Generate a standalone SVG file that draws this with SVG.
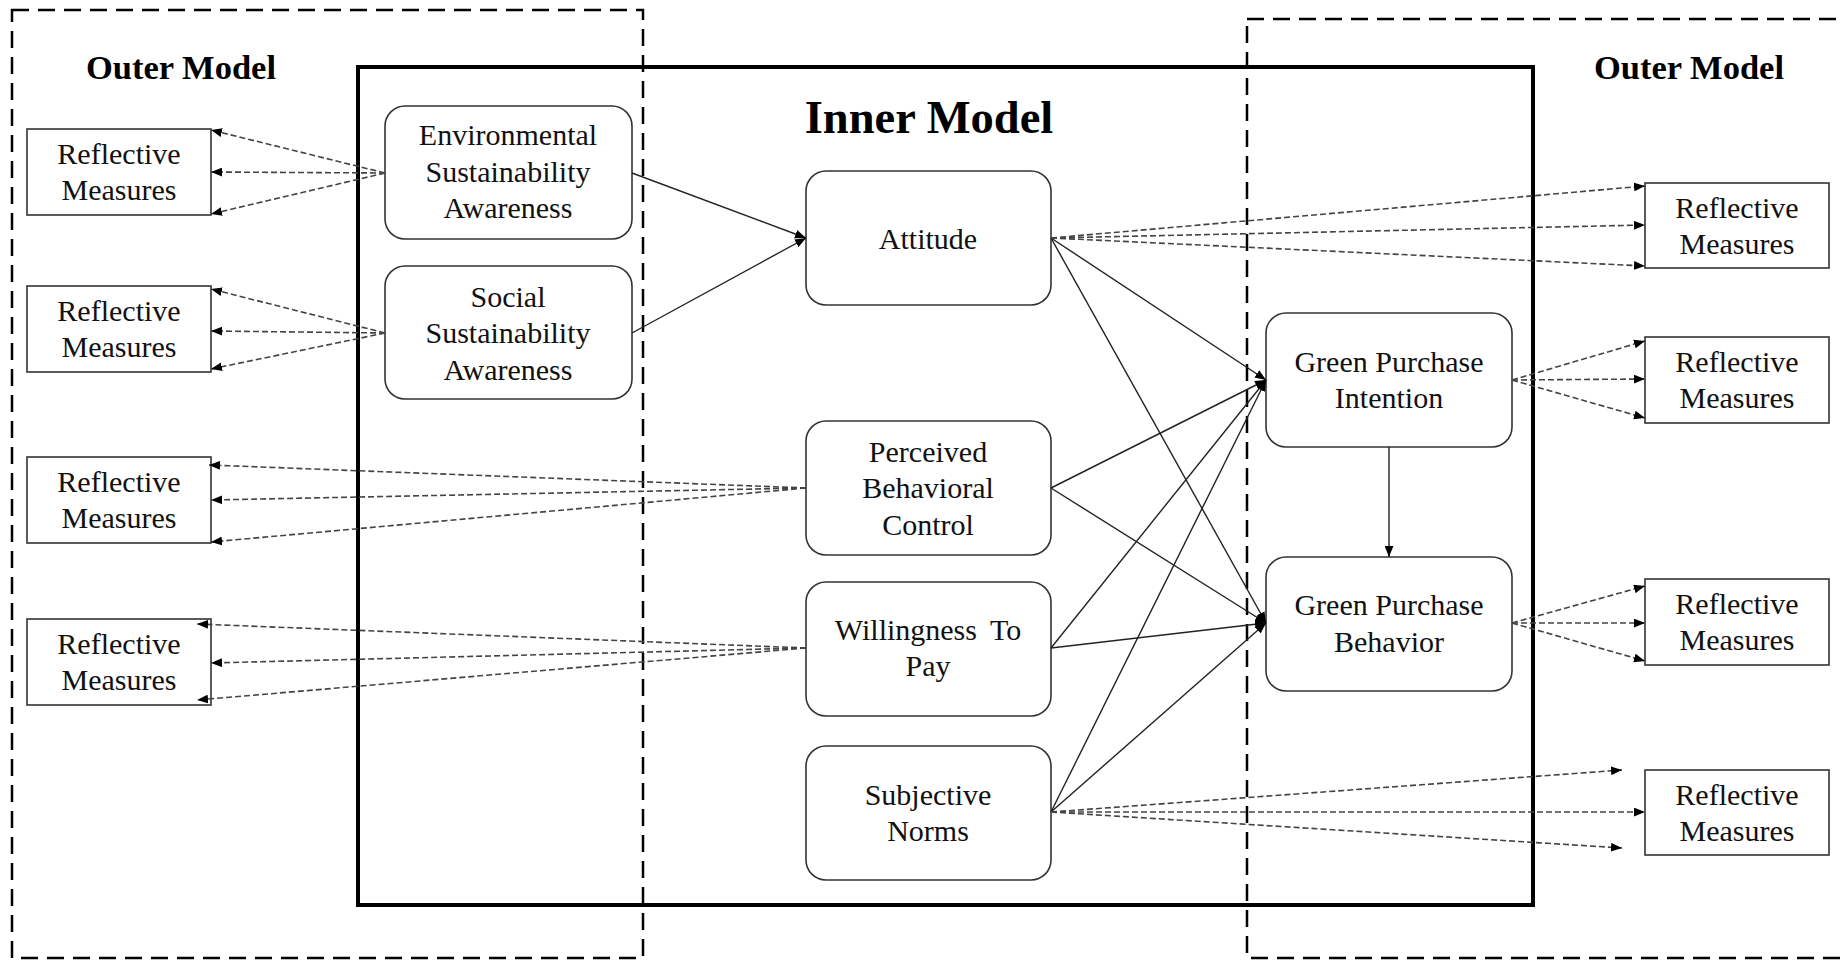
<svg xmlns="http://www.w3.org/2000/svg" width="1843" height="960" viewBox="0 0 1843 960">
<defs>
<marker id="ah" viewBox="0 0 10 8" refX="10" refY="4" markerWidth="11" markerHeight="9" markerUnits="userSpaceOnUse" orient="auto">
<path d="M0,0 L10,4 L0,8 z" fill="#000"/>
</marker>
<style>
.bg{fill:#fff}
.outer{fill:none;stroke:#000;stroke-width:2.5;stroke-dasharray:17 9}
.inner{fill:none;stroke:#000;stroke-width:4}
.rm{fill:#fff;stroke:#333;stroke-width:1.6}
.lv{fill:#fff;stroke:#333;stroke-width:1.6}
.t{font-family:"Liberation Serif","Times New Roman",serif;font-size:30px;fill:#111;text-anchor:middle}
.h{font-family:"Liberation Serif","Times New Roman",serif;font-weight:bold;fill:#000;text-anchor:middle}
.sl{fill:none;stroke:#222;stroke-width:1.4;marker-end:url(#ah)}
.dl{fill:none;stroke:#444;stroke-width:1.6;stroke-dasharray:6 3;marker-end:url(#ah)}
</style>
</defs>
<rect class="bg" x="0" y="0" width="1843" height="960"/>

<g id="frames">
<rect class="outer" x="12" y="10" width="631" height="948"/>
<rect class="outer" x="1247" y="19" width="620" height="939"/>
<rect class="inner" x="358" y="67" width="1175" height="838"/>
<text class="h" x="181" y="79" font-size="34.5">Outer Model</text>
<text class="h" x="1689" y="79" font-size="34.5">Outer Model</text>
<text class="h" x="929" y="133" font-size="46.5">Inner Model</text>
</g>

<g id="rm-l1"><rect class="rm" x="27" y="129" width="184" height="86"/><text class="t" x="119" y="164">Reflective</text><text class="t" x="119" y="200">Measures</text></g>
<g id="rm-l2"><rect class="rm" x="27" y="286" width="184" height="86"/><text class="t" x="119" y="321">Reflective</text><text class="t" x="119" y="357">Measures</text></g>
<g id="rm-l3"><rect class="rm" x="27" y="457" width="184" height="86"/><text class="t" x="119" y="492">Reflective</text><text class="t" x="119" y="528">Measures</text></g>
<g id="rm-l4"><rect class="rm" x="27" y="619" width="184" height="86"/><text class="t" x="119" y="654">Reflective</text><text class="t" x="119" y="690">Measures</text></g>

<g id="rm-r1"><rect class="rm" x="1645" y="183" width="184" height="85"/><text class="t" x="1737" y="218">Reflective</text><text class="t" x="1737" y="254">Measures</text></g>
<g id="rm-r2"><rect class="rm" x="1645" y="337" width="184" height="86"/><text class="t" x="1737" y="372">Reflective</text><text class="t" x="1737" y="408">Measures</text></g>
<g id="rm-r3"><rect class="rm" x="1645" y="579" width="184" height="86"/><text class="t" x="1737" y="614">Reflective</text><text class="t" x="1737" y="650">Measures</text></g>
<g id="rm-r4"><rect class="rm" x="1645" y="770" width="184" height="85"/><text class="t" x="1737" y="805">Reflective</text><text class="t" x="1737" y="841">Measures</text></g>

<g id="esa"><rect class="lv" x="385" y="106" width="247" height="133" rx="20"/><text class="t" x="508" y="145">Environmental</text><text class="t" x="508" y="182">Sustainability</text><text class="t" x="508" y="218">Awareness</text></g>
<g id="ssa"><rect class="lv" x="385" y="266" width="247" height="133" rx="20"/><text class="t" x="508" y="307">Social</text><text class="t" x="508" y="343">Sustainability</text><text class="t" x="508" y="380">Awareness</text></g>

<g id="attitude"><rect class="lv" x="806" y="171" width="245" height="134" rx="20"/><text class="t" x="928" y="249">Attitude</text></g>
<g id="pbc"><rect class="lv" x="806" y="421" width="245" height="134" rx="20"/><text class="t" x="928" y="462">Perceived</text><text class="t" x="928" y="498">Behavioral</text><text class="t" x="928" y="535">Control</text></g>
<g id="wtp"><rect class="lv" x="806" y="582" width="245" height="134" rx="20"/><text class="t" x="928" y="640" word-spacing="6">Willingness To</text><text class="t" x="928" y="676">Pay</text></g>
<g id="sn"><rect class="lv" x="806" y="746" width="245" height="134" rx="20"/><text class="t" x="928" y="805">Subjective</text><text class="t" x="928" y="841">Norms</text></g>

<g id="gpi"><rect class="lv" x="1266" y="313" width="246" height="134" rx="20"/><text class="t" x="1389" y="372">Green Purchase</text><text class="t" x="1389" y="408">Intention</text></g>
<g id="gpb"><rect class="lv" x="1266" y="557" width="246" height="134" rx="20"/><text class="t" x="1389" y="615">Green Purchase</text><text class="t" x="1389" y="652">Behavior</text></g>

<g id="connectors">
<path class="sl" d="M632,173 L806,238"/>
<path class="sl" d="M632,333 L806,238"/>
<path class="sl" d="M1051,238 L1266,380"/>
<path class="sl" d="M1051,238 L1266,623"/>
<path class="sl" d="M1051,488 L1266,380"/>
<path class="sl" d="M1051,488 L1266,623"/>
<path class="sl" d="M1051,648 L1266,380"/>
<path class="sl" d="M1051,648 L1266,623"/>
<path class="sl" d="M1051,812 L1266,380"/>
<path class="sl" d="M1051,812 L1266,623"/>
<path class="sl" d="M1389,447 L1389,557"/>

<path class="dl" d="M385,173 L211,130"/>
<path class="dl" d="M385,173 L211,172"/>
<path class="dl" d="M385,173 L211,214"/>
<path class="dl" d="M385,333 L211,289"/>
<path class="dl" d="M385,333 L211,331"/>
<path class="dl" d="M385,333 L211,369"/>
<path class="dl" d="M806,488 L209,465"/>
<path class="dl" d="M806,488 L211,500"/>
<path class="dl" d="M806,488 L211,542"/>
<path class="dl" d="M806,648 L197,624"/>
<path class="dl" d="M806,648 L211,663"/>
<path class="dl" d="M806,648 L197,700"/>
<path class="dl" d="M1051,238 L1645,186"/>
<path class="dl" d="M1051,238 L1645,225"/>
<path class="dl" d="M1051,238 L1645,266"/>
<path class="dl" d="M1512,380 L1645,341"/>
<path class="dl" d="M1512,380 L1645,379"/>
<path class="dl" d="M1512,380 L1645,418"/>
<path class="dl" d="M1512,623 L1645,586"/>
<path class="dl" d="M1512,623 L1645,623"/>
<path class="dl" d="M1512,623 L1645,661"/>
<path class="dl" d="M1051,812 L1622,770"/>
<path class="dl" d="M1051,812 L1645,812"/>
<path class="dl" d="M1051,812 L1622,848"/>
</g>
</svg>
